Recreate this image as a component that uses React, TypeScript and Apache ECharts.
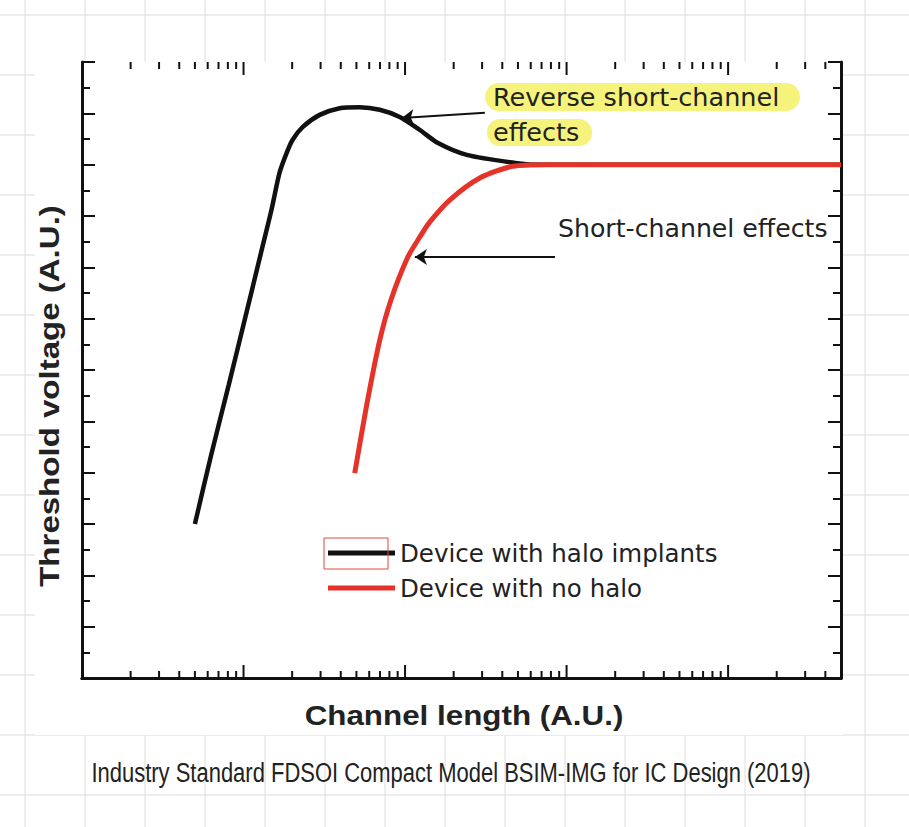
import React, { useEffect, useRef } from "react";
import * as echarts from "echarts";

// ---- data ----
const haloLength = [0.5, 0.63, 0.81, 1.03, 1.31, 1.49, 1.67, 1.85, 2.01, 2.32, 2.96, 3.94, 5.24, 6.97, 9.27, 12.3, 16.0, 24.1, 49.3, 70, 5000];
const haloVth = [3.0, 4.34, 5.71, 7.05, 8.4, 9.12, 9.84, 10.23, 10.48, 10.73, 10.97, 11.1, 11.12, 11.07, 10.93, 10.68, 10.42, 10.19, 10.03, 10.0, 10.0];
const noHaloLength = [4.88, 5.79, 6.97, 8.17, 10.4, 12.34, 14.2, 18.9, 29.0, 46.5, 75.5, 5000];
const noHaloVth = [3.99, 5.32, 6.58, 7.36, 8.2, 8.59, 8.88, 9.31, 9.74, 9.97, 10.0, 10.0];

const seriesNames = ["Device with halo implants", "Device with no halo"];
const xTitle = "Channel length (A.U.)";
const yTitle = "Threshold voltage (A.U.)";
const caption = "Industry Standard FDSOI Compact Model BSIM-IMG for IC Design (2019)";

// log axis tick positions
const majorTicks = [1, 10, 100, 1000];
const minorTicks = [
  0.2, 0.3, 0.4, 0.5, 0.6, 0.7, 0.8, 0.9,
  2, 3, 4, 5, 6, 7, 8, 9,
  20, 30, 40, 50, 60, 70, 80, 90,
  200, 300, 400, 500, 600, 700, 800, 900,
  2000, 3000, 4000,
];

// annotation arrows: [tail, tip]
const reverseArrow = [[31.2, 11.01], [9.54, 10.91]];
const shortArrow = [[84.8, 8.2], [11.5, 8.2]];

const gridPaperX = [25, 85, 145, 205, 265, 325, 385, 445, 505, 565, 625, 685, 745, 805, 865];
const gridPaperY = [15, 75, 135, 195, 255, 315, 375, 435, 495, 555, 615, 675, 735, 795];

export default function App() {
  const ref = useRef<HTMLDivElement>(null);

  useEffect(() => {
    if (!ref.current) return;
    const chart = echarts.init(ref.current, undefined, { renderer: "svg" });
    const W = 909;
    const H = 827;

    const paper: any[] = [];
    gridPaperX.forEach((x) =>
      paper.push({ type: "line", z: -20, silent: true, shape: { x1: x, y1: 0, x2: x, y2: H }, style: { stroke: "#dcdcdc", lineWidth: 1 } })
    );
    gridPaperY.forEach((y) =>
      paper.push({ type: "line", z: -20, silent: true, shape: { x1: 0, y1: y, x2: W, y2: y }, style: { stroke: "#dcdcdc", lineWidth: 1 } })
    );
    paper.push({ type: "rect", z: -10, silent: true, shape: { x: 35, y: 62, width: 807, height: 673 }, style: { fill: "#ffffff" } });

    const textFont = "DejaVu Sans";
    const txt = (text: string, x: number, y: number, size: number, extra: any = {}, align = "left", family = textFont, weight = "normal") => ({
      type: "text",
      z: 5,
      x,
      y,
      ...extra,
      style: {
        text,
        fontSize: size,
        fontFamily: family,
        fontWeight: weight,
        fill: "#222",
        textAlign: align,
        textVerticalAlign: "middle",
        align,
        verticalAlign: "middle",
      },
    });

    const annotations: any[] = [
      { type: "rect", z: 1, shape: { x: 485, y: 83, width: 315, height: 28, r: 14 }, style: { fill: "#f6f37c" } },
      { type: "rect", z: 1, shape: { x: 487, y: 119, width: 105, height: 27, r: 13 }, style: { fill: "#f6f37c" } },
      txt("Reverse short-channel", 493, 97, 25.5),
      txt("effects", 493, 132, 25.5),
      txt("Short-channel effects", 558, 228, 25.2),
      { type: "rect", z: 10, shape: { x: 324, y: 538, width: 64, height: 31 }, style: { fill: "none", stroke: "#e0483a", lineWidth: 1 } },
      txt(caption, 451, 772, 28, { scaleX: 0.785 }, "center", "Liberation Sans"),
      txt(xTitle, 464, 715, 28, { scaleX: 1.12 }, "center", "Liberation Sans", "bold"),
      txt(yTitle, 49, 396, 28, { scaleX: 1.18, rotation: Math.PI / 2 }, "center", "Liberation Sans", "bold"),
    ];

    const tickSeries = (values: number[], len: number) => ({
      type: "custom",
      silent: true,
      z: 4,
      xAxisIndex: 0,
      yAxisIndex: 0,
      data: values.map((v) => [v, 0]),
      renderItem: (params: any, api: any) => {
        const x = api.coord([api.value(0), 0])[0];
        const cs = params.coordSys;
        const bottom = cs.y + cs.height;
        return {
          type: "group",
          children: [
            { type: "line", shape: { x1: x, y1: bottom, x2: x, y2: bottom - len }, style: { stroke: "#111", lineWidth: 2 } },
            { type: "line", shape: { x1: x, y1: cs.y, x2: x, y2: cs.y + len }, style: { stroke: "#111", lineWidth: 2 } },
          ],
        };
      },
    });

    const axisLine = { show: true, lineStyle: { color: "#111", width: 3 } };
    const yAxisCommon = {
      type: "value",
      min: 0,
      max: 12,
      interval: 1,
      axisLine,
      axisTick: { show: true, inside: true, length: 13, lineStyle: { color: "#111", width: 2 } },
      minorTick: { show: true, splitNumber: 2, length: 8, lineStyle: { color: "#111", width: 2 } },
      axisLabel: { show: false },
      splitLine: { show: false },
      minorSplitLine: { show: false },
    };
    const xAxisCommon = {
      type: "log",
      logBase: 10,
      min: 0.1,
      max: 5000,
      axisLine,
      axisTick: { show: false },
      axisLabel: { show: false },
      splitLine: { show: false },
      minorSplitLine: { show: false },
    };

    chart.setOption({
      animation: false,
      backgroundColor: "#ffffff",
      grid: { left: 82, right: 68, top: 62, bottom: 149, containLabel: false },
      xAxis: [
        { ...xAxisCommon, position: "bottom" },
        { ...xAxisCommon, position: "top" },
      ],
      yAxis: [
        { ...yAxisCommon, position: "left" },
        { ...yAxisCommon, position: "right" },
      ],
      legend: {
        data: seriesNames,
        orient: "vertical",
        left: 323,
        top: 535,
        icon: "rect",
        itemWidth: 67,
        itemHeight: 5,
        itemGap: 9,
        selectedMode: false,
        textStyle: { fontFamily: textFont, fontSize: 24.5, color: "#222", lineHeight: 26 },
      },
      graphic: [...paper, ...annotations],
      series: [
        {
          name: seriesNames[0],
          type: "line",
          data: haloLength.map((x, i) => [x, haloVth[i]]),
          symbol: "none",
          smooth: 0.25,
          lineStyle: { color: "#111111", width: 4.5 },
          itemStyle: { color: "#111111" },
          z: 2,
          markLine: {
            silent: true,
            symbol: ["none", "arrow"],
            symbolSize: 12,
            label: { show: false },
            lineStyle: { color: "#111", width: 2, type: "solid" },
            data: [[{ coord: reverseArrow[0] }, { coord: reverseArrow[1] }]],
          },
        },
        {
          name: seriesNames[1],
          type: "line",
          data: noHaloLength.map((x, i) => [x, noHaloVth[i]]),
          symbol: "none",
          smooth: 0.25,
          lineStyle: { color: "#e6332a", width: 5 },
          itemStyle: { color: "#e6332a" },
          z: 3,
          markLine: {
            silent: true,
            symbol: ["none", "arrow"],
            symbolSize: 12,
            label: { show: false },
            lineStyle: { color: "#111", width: 2, type: "solid" },
            data: [[{ coord: shortArrow[0] }, { coord: shortArrow[1] }]],
          },
        },
        tickSeries(majorTicks, 13),
        tickSeries(minorTicks, 7),
      ],
    });

    return () => chart.dispose();
  }, []);

  return (
    <div
      ref={ref}
      style={{ position: "fixed", left: 0, top: 0, width: 909, height: 827 }}
    />
  );
}
